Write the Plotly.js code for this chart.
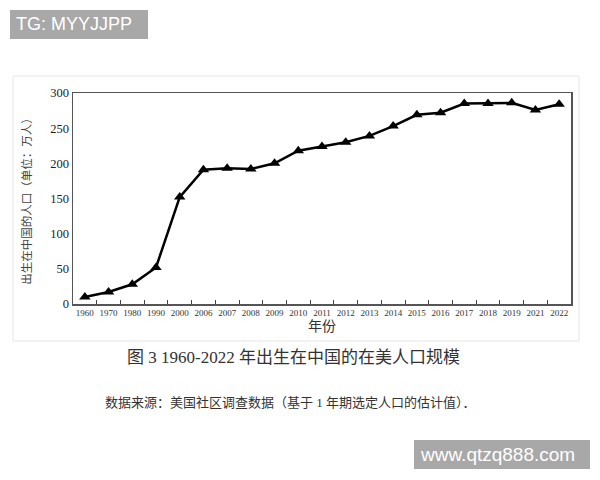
<!DOCTYPE html>
<html>
<head>
<meta charset="utf-8">
<script src="https://cdn.plot.ly/plotly-3.0.1.min.js"></script>
<style>html,body{margin:0;padding:0;background:#fff;}#chart{width:600px;height:480px;}</style>
</head>
<body>
<div id="chart"></div>
<script>
// Data
const years = ["1960","1970","1980","1990","2000","2006","2007","2008","2009","2010","2011","2012","2013","2014","2015","2016","2017","2018","2019","2021","2022"];
const population = [10,17,28,52,152,191,193,192,200,218,224,230,239,253,269,272,285,285,286,276,284];
const yTicks = [0,50,100,150,200,250,300];

const chartTitle = "图 3 1960-2022 年出生在中国的在美人口规模";
const sourceNote = "数据来源：美国社区调查数据（基于 1 年期选定人口的估计值）．";
const yTitle = "出生在中国的人口（单位：万人）";
const xTitle = "年份";
const watermark1 = "TG: MYYJJPP";
const watermark2 = "www.qtzq888.com";

// layout helpers (pixel -> paper)
const L = 73, R = 571, T = 93, B = 304;
const px = x => (x - L) / (R - L);
const py = y => (B - y) / (B - T);

const serif = "Liberation Serif, Times New Roman, Noto Sans CJK SC, serif";
const cjk = "Liberation Serif, Noto Sans CJK SC, serif";

const trace = {
  type: "scatter",
  mode: "lines+markers",
  x: years,
  y: population,
  line: {color: "#000", width: 2.5},
  marker: {symbol: "triangle-up", size: 10, color: "#000"},
  hoverinfo: "x+y"
};

const layout = {
  width: 600, height: 480,
  margin: {l: L, r: 600 - R, t: T, b: 480 - B, pad: 0},
  paper_bgcolor: "#fff", plot_bgcolor: "#fff",
  showlegend: false,
  font: {family: serif, color: "#222"},
  xaxis: {
    type: "category",
    range: [-0.5, years.length - 0.5],
    tickson: "boundaries",
    ticks: "inside", ticklen: 4, tickcolor: "#444", tickwidth: 1,
    showline: true, mirror: true, linecolor: "#555", linewidth: 1.5,
    showgrid: false, zeroline: false,
    tickfont: {family: serif, size: 9, color: "#333"},
    tickangle: 0,
    title: {text: xTitle, font: {family: cjk, size: 14, color: "#333"}, standoff: 4}
  },
  yaxis: {
    range: [0, 300],
    tickvals: yTicks,
    ticks: "outside", ticklen: 0,
    showline: true, mirror: true, linecolor: "#555", linewidth: 1.5,
    showgrid: false, zeroline: false,
    tickfont: {family: serif, size: 12.5, color: "#222"},
    title: {text: yTitle, font: {family: cjk, size: 11.5, color: "#444"}, standoff: 16}
  },
  shapes: [
    {type: "rect", xref: "paper", yref: "paper",
     x0: px(13), x1: px(579), y0: py(76), y1: py(341),
     line: {color: "#e6e6e6", width: 1}, layer: "below"},
    {type: "rect", xref: "paper", yref: "paper",
     x0: px(10), x1: px(148), y0: py(10), y1: py(39),
     fillcolor: "#a8a8a8", line: {width: 0}},
    {type: "rect", xref: "paper", yref: "paper",
     x0: px(414), x1: px(590), y0: py(440), y1: py(469),
     fillcolor: "#a8a8a8", line: {width: 0}}
  ],
  annotations: [
    {text: chartTitle, xref: "paper", yref: "paper", x: px(293), y: py(357),
     xanchor: "center", yanchor: "middle", showarrow: false,
     font: {family: cjk, size: 17, color: "#333"}},
    {text: sourceNote, xref: "paper", yref: "paper", x: px(103), y: py(402),
     xanchor: "left", yanchor: "middle", showarrow: false,
     font: {family: cjk, size: 13, color: "#333"}},
    {text: watermark1, xref: "paper", yref: "paper", x: px(14), y: py(24.5),
     xanchor: "left", yanchor: "middle", showarrow: false,
     font: {family: "Liberation Sans, Arial, sans-serif", size: 18, color: "#fff"}},
    {text: watermark2, xref: "paper", yref: "paper", x: px(418), y: py(454.5),
     xanchor: "left", yanchor: "middle", showarrow: false,
     font: {family: "Liberation Sans, Arial, sans-serif", size: 19, color: "#fff"}}
  ]
};

Plotly.newPlot("chart", [trace], layout, {displayModeBar: false, staticPlot: true});
</script>
</body>
</html>
